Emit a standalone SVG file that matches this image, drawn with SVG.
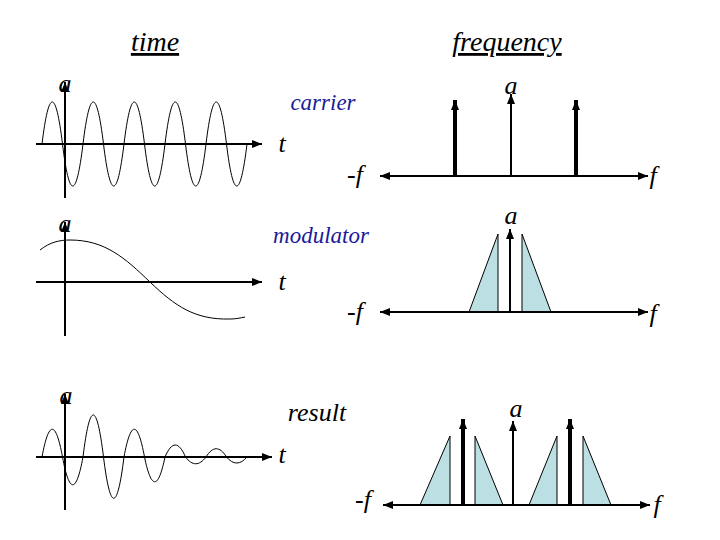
<svg xmlns="http://www.w3.org/2000/svg" width="720" height="540" viewBox="0 0 720 540">
<defs>
<marker id="ah" markerUnits="userSpaceOnUse" markerWidth="12" markerHeight="10" refX="10" refY="5" orient="auto-start-reverse"><path d="M0,1 L10,5 L0,9 Z" fill="#000"/></marker>
<style>
.ax{stroke:#000;stroke-width:2;fill:none}
.w{stroke:#000;stroke-width:1;fill:none}
.thin{stroke:#000;stroke-width:2;fill:none}
.thick{stroke:#000;stroke-width:4;fill:none}
.tri{fill:#bcdfe3;stroke:#000;stroke-width:1}
text{font-family:"Liberation Serif","Times New Roman","DejaVu Serif",serif;font-style:italic;font-size:26px;fill:#000}
.lbl{font-size:23px;fill:#1a1a99}
.hd{font-size:28px;text-decoration:underline}
</style>
</defs>
<rect width="720" height="540" fill="#fff"/>
<g id="titles">
<text class="hd" x="155" y="51" text-anchor="middle">time</text>
<text class="hd" x="507" y="51" text-anchor="middle">frequency</text>
</g>
<g id="carrier-time">
<line class="ax" x1="36" y1="144" x2="262" y2="144" marker-end="url(#ah)"/>
<line class="ax" x1="65" y1="198" x2="65" y2="82" marker-end="url(#ah)"/>
<path class="w" d="M42,144 C48.83,88 55.67,88 62.5,144 C69.33,200 76.17,200 83,144 C89.83,88 96.67,88 103.5,144 C110.33,200 117.17,200 124,144 C130.83,88 137.67,88 144.5,144 C151.33,200 158.17,200 165,144 C171.83,88 178.67,88 185.5,144 C192.33,200 199.17,200 206,144 C212.83,88 219.67,88 226.5,144 C233.33,200 240.17,200 247,144"/>
<text x="65" y="92" text-anchor="middle">a</text>
<text x="282" y="152" text-anchor="middle">t</text>
<text class="lbl" x="323" y="110" text-anchor="middle">carrier</text>
</g>
<g id="modulator-time">
<line class="ax" x1="36" y1="282" x2="262" y2="282" marker-end="url(#ah)"/>
<line class="ax" x1="65" y1="336" x2="65" y2="222" marker-end="url(#ah)"/>
<path class="w" d="M40,250 C50,242 60,240 70,240 C105,240 125,258 150,282 C175,306 195,320 230,319 C236,319 240,318 245,317"/>
<text x="65" y="232" text-anchor="middle">a</text>
<text x="282" y="290" text-anchor="middle">t</text>
<text class="lbl" x="321" y="243" text-anchor="middle">modulator</text>
</g>
<g id="result-time">
<line class="ax" x1="36" y1="457" x2="272" y2="457" marker-end="url(#ah)"/>
<line class="ax" x1="65" y1="510" x2="65" y2="394" marker-end="url(#ah)"/>
<path class="w" d="M42,457 C48.83,420 55.67,420 62.5,457 C69.33,494 76.17,494 83,457 C89.83,401 96.67,401 103.5,457 C110.33,512 117.17,512 124,457 C130.83,420 137.67,420 144.5,457 C151.33,490 158.17,490 165,457 C171.83,441 178.67,441 185.5,457 C192.33,466 199.17,466 206,457 C212.83,446 219.67,446 226.5,457 C233.33,465 240.17,465 247,457"/>
<text x="66" y="404" text-anchor="middle">a</text>
<text x="282" y="463" text-anchor="middle">t</text>
<text x="317" y="421" text-anchor="middle">result</text>
</g>
<g id="carrier-freq">
<line class="ax" x1="380" y1="176" x2="648" y2="176" marker-start="url(#ah)" marker-end="url(#ah)"/>
<line class="thin" x1="511" y1="176" x2="511" y2="94" marker-end="url(#ah)"/>
<line class="thick" x1="455" y1="176" x2="455" y2="100" marker-end="url(#ah)"/>
<line class="thick" x1="576" y1="176" x2="576" y2="100" marker-end="url(#ah)"/>
<text x="355" y="183" text-anchor="middle">-f</text>
<text x="653" y="184" text-anchor="middle">f</text>
<text x="511" y="94" text-anchor="middle">a</text>
</g>
<g id="modulator-freq">
<polygon class="tri" points="469,312 498,234 498,312"/>
<polygon class="tri" points="522,234 522,312 551,312"/>
<line class="ax" x1="380" y1="312" x2="648" y2="312" marker-start="url(#ah)" marker-end="url(#ah)"/>
<line class="thin" x1="510" y1="312" x2="510" y2="229" stroke-width="3" marker-end="url(#ah)"/>
<text x="355" y="320" text-anchor="middle">-f</text>
<text x="653" y="322" text-anchor="middle">f</text>
<text x="511" y="224" text-anchor="middle">a</text>
</g>
<g id="result-freq">
<polygon class="tri" points="420,505 450,436 450,505"/>
<polygon class="tri" points="475,436 475,505 503,505"/>
<polygon class="tri" points="529,505 557,436 557,505"/>
<polygon class="tri" points="583,436 583,505 611,505"/>
<line class="ax" x1="383" y1="505" x2="650" y2="505" marker-start="url(#ah)" marker-end="url(#ah)"/>
<line class="thin" x1="513" y1="505" x2="513" y2="421" marker-end="url(#ah)"/>
<line class="thick" x1="463" y1="505" x2="463" y2="419" marker-end="url(#ah)"/>
<line class="thick" x1="570" y1="505" x2="570" y2="419" marker-end="url(#ah)"/>
<text x="363" y="508" text-anchor="middle">-f</text>
<text x="657" y="513" text-anchor="middle">f</text>
<text x="516" y="417" text-anchor="middle">a</text>
</g>
</svg>
